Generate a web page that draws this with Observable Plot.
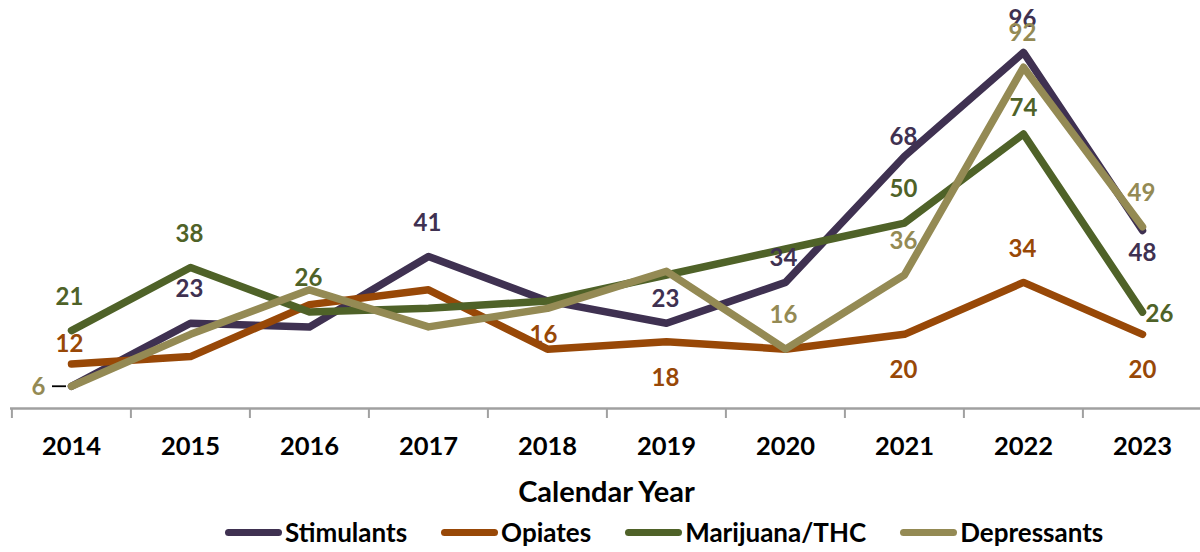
<!DOCTYPE html>
<html>
<head>
<meta charset="utf-8">
<script src="https://cdn.jsdelivr.net/npm/d3@7"></script>
<script src="https://cdn.jsdelivr.net/npm/@observablehq/plot@0.6"></script>
<style>
  html, body { margin: 0; padding: 0; background: #fff; }
  body { width: 1200px; height: 552px; overflow: hidden; font-family: Lato, "Open Sans", sans-serif; }
  #legend { height: 40px; display: flex; align-items: center; padding-left: 225px; gap: 34px; font-weight: 700; font-size: 26px; color: #000; }
  .item { display: flex; align-items: center; }
  .sw { width: 57px; height: 7px; border-radius: 4px; margin-right: 3px; }
</style>
</head>
<body>
<div id="chart"></div>
<div id="legend"></div>
<script>
const years = [2014, 2015, 2016, 2017, 2018, 2019, 2020, 2021, 2022, 2023];
const seriesNames = ["Stimulants", "Opiates", "Marijuana/THC", "Depressants"];
const seriesColors = ["#3F3151", "#984807", "#4F6228", "#948A54"];
const stimulants  = [6, 23, 22, 41, 29, 23, 34, 68, 96, 48];
const opiates     = [12, 14, 28, 32, 16, 18, 16, 20, 34, 20];
const marijuana   = [21, 38, 26, 27, 29, 36, 43, 50, 74, 26];
const depressants = [6, 20, 32, 22, 27, 37, 16, 36, 92, 49];
// years whose value is printed as a data label
const stimulantsLabeled  = [2015, 2017, 2019, 2020, 2021, 2022, 2023];
const opiatesLabeled     = [2014, 2018, 2019, 2021, 2022, 2023];
const marijuanaLabeled   = [2014, 2015, 2016, 2021, 2022, 2023];
const depressantsLabeled = [2014, 2020, 2021, 2022, 2023];
const xTitle = "Calendar Year";

const allValues = [stimulants, opiates, marijuana, depressants];
const allLabeled = [stimulantsLabeled, opiatesLabeled, marijuanaLabeled, depressantsLabeled];
const data = seriesNames.flatMap((s, i) => years.map((y, j) => ({series: s, year: y, value: allValues[i][j]})));
const labelData = data.filter(d => allLabeled[seriesNames.indexOf(d.series)].includes(d.year));
const colorOf = s => seriesColors[seriesNames.indexOf(s)];

// label placement (pixel offsets), default above the point
const placement = {
  "Depressants-2014": [-33, 1],
  "Opiates-2014": [-2, -20],
  "Marijuana/THC-2014": [-2, -33],
  "Stimulants-2019": [-1, -24],
  "Opiates-2018": [-4, -14],
  "Opiates-2019": [-1, 37],
  "Stimulants-2020": [-2, -24],
  "Depressants-2020": [-2, -34],
  "Stimulants-2021": [-1, -19],
  "Opiates-2021": [-1, 36],
  "Marijuana/THC-2022": [0, -26],
  "Stimulants-2023": [0, 23],
  "Marijuana/THC-2023": [17, 2],
  "Opiates-2023": [0, 36]
};
const place = d => placement[d.series + "-" + d.year] || [-1, -33.5];

const labelMarks = labelData.map(d => {
  const [dx, dy] = place(d);
  return Plot.text([d], {x: "year", y: "value", text: d => String(d.value), fill: colorOf(d.series),
    dx, dy, fontSize: 24, fontWeight: 700, lineAnchor: "middle"});
});

const chart = Plot.plot({
  width: 1200,
  height: 512,
  marginTop: 0,
  marginBottom: 104,
  marginLeft: 10,
  marginRight: 0,
  style: {fontFamily: "Lato, 'Open Sans', sans-serif", background: "#fff"},
  x: {type: "point", domain: years, range: [10.5, 1203], padding: 0.5, axis: null},
  y: {domain: [0, 110], axis: null},
  color: {domain: seriesNames, range: seriesColors},
  marks: [
    Plot.ruleY([0], {stroke: "#a0a0a0", strokeWidth: 2.5}),
    Plot.tickX(years, {x: d => d, dx: -59.6, stroke: "#a0a0a0", strokeWidth: 2, insetTop: 408, insetBottom: -10}),
    Plot.text(years, {x: d => d, y: () => 0, text: d => String(d), dy: 38, fontSize: 25.5, fontWeight: 700, fill: "#000", lineAnchor: "middle"}),
    Plot.text([xTitle], {frameAnchor: "bottom", dy: 84, dx: 1, fontSize: 29, fontWeight: 700, fill: "#000", lineAnchor: "middle"}),
    Plot.line(data, {x: "year", y: "value", z: "series", stroke: "series", strokeWidth: 7.5, strokeLinejoin: "round", strokeLinecap: "round"}),
    Plot.ruleY(data.filter(d => d.series === "Depressants" && d.year === years[0]), {y: "value", stroke: "#000", strokeWidth: 1.8, insetLeft: 42, insetRight: 1134}),
    ...labelMarks
  ]
});
document.getElementById("chart").appendChild(chart);

const legend = document.getElementById("legend");
seriesNames.forEach((s, i) => {
  const item = document.createElement("div");
  item.className = "item";
  const sw = document.createElement("span");
  sw.className = "sw";
  sw.style.background = seriesColors[i];
  const t = document.createElement("span");
  t.textContent = s;
  item.appendChild(sw);
  item.appendChild(t);
  legend.appendChild(item);
});
</script>
</body>
</html>
